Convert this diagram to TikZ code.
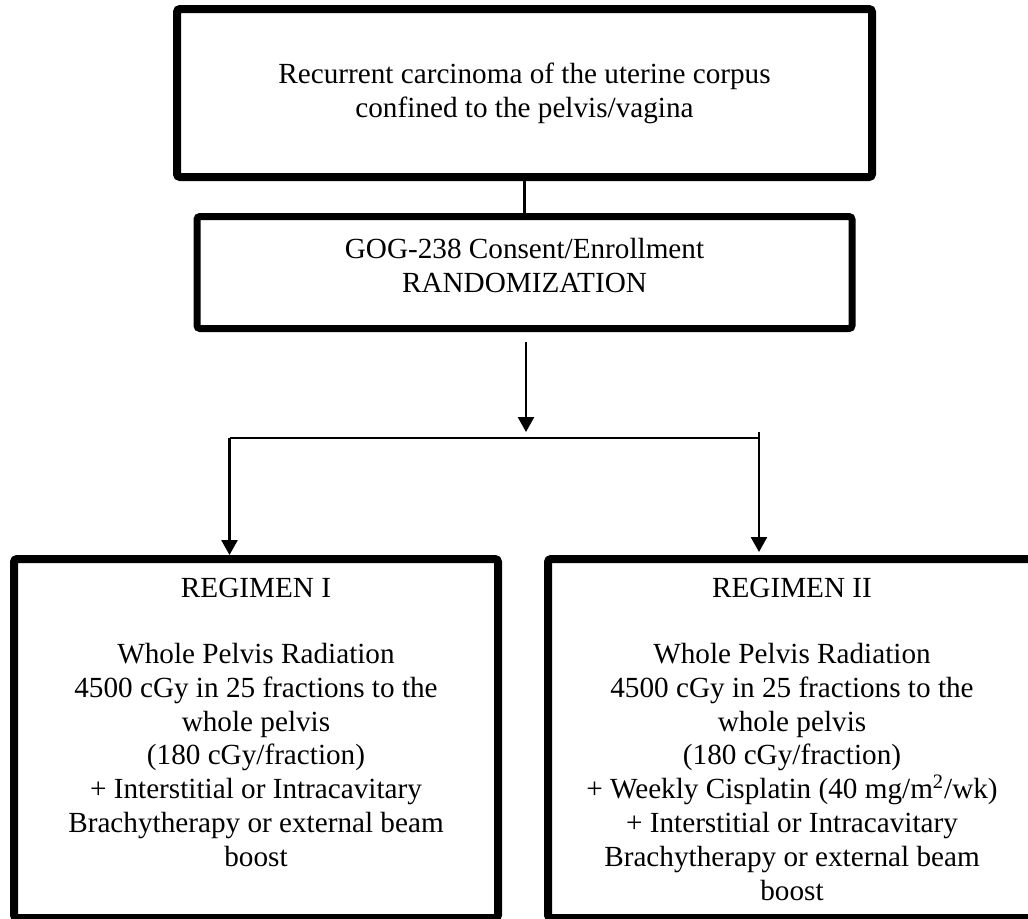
\documentclass[tikz,border=0pt]{standalone}
\usepackage{fontspec}
\setmainfont{Liberation Serif}
\usetikzlibrary{positioning,arrows.meta}

\begin{document}
\begin{tikzpicture}[x=0.5pt, y=-0.5pt,
        box/.style={draw, rectangle, rounded corners=1.5pt, line width=4pt, align=center, inner sep=0pt},
        txt/.style={align=center, inner sep=0pt, font=\fontsize{14.6}{16.9}\selectfont},
        link/.style={line width=1.3pt},
        branch/.style={line width=0.8pt},
        >={Triangle[width=8pt,length=7.5pt]}
    ]
        \useasboundingbox (0,0) rectangle (1028,918);

        \node [box, txt, minimum width=347.5pt, minimum height=84pt] (top) at (524.5,93) {Recurrent carcinoma of the uterine corpus\\confined to the pelvis/vagina};
        \node [box, line width=3.5pt, minimum width=327.5pt, minimum height=56pt, below=16pt of top] (gog) {};
        \node [txt, anchor=north] (gogtxt) at ([yshift=-12.5pt]gog.north) {GOG-238 Consent/Enrollment\\RANDOMIZATION};

        \node [box, minimum width=242pt, minimum height=179.5pt] (regI) at (256,738.5) {};
        \node [box, minimum width=244pt, minimum height=179.5pt] (regII) at (792,738.5) {};

        \node [txt, anchor=north] (regItxt) at ([yshift=-11.5pt]regI.north) {REGIMEN I\\[16pt]%
            Whole Pelvis Radiation\\4500 cGy in 25 fractions to the\\whole pelvis\\(180 cGy/fraction)\\%
            + Interstitial or Intracavitary\\Brachytherapy or external beam\\boost};
        \node [txt, anchor=north] (regIItxt) at ([yshift=-11.5pt]regII.north) {REGIMEN II\\[16pt]%
            Whole Pelvis Radiation\\4500 cGy in 25 fractions to the\\whole pelvis\\(180 cGy/fraction)\\%
            + Weekly Cisplatin (40 mg/m\textsuperscript{2}/wk)\\%
            + Interstitial or Intracavitary\\Brachytherapy or external beam\\boost};

        \coordinate (split) at (526,438);
        \coordinate (brL) at (229.5,438);
        \coordinate (brR) at (759,438);
        \coordinate (tipL) at (brL |- regI.north);
        \coordinate (tipR) at (brR |- regII.north);

        \draw [link] (top) -- (gog);
        \draw [link, ->] (split |- gog.south) ++(0,10) -- ([yshift=3pt]split);
        \draw [branch] (brL) -- (brR);
        \draw [link, ->] (brL) -- (tipL);
        \draw [link, ->] ([yshift=3pt]brR) -- ([yshift=1.5pt]tipR);
    \end{tikzpicture}
\end{document}
